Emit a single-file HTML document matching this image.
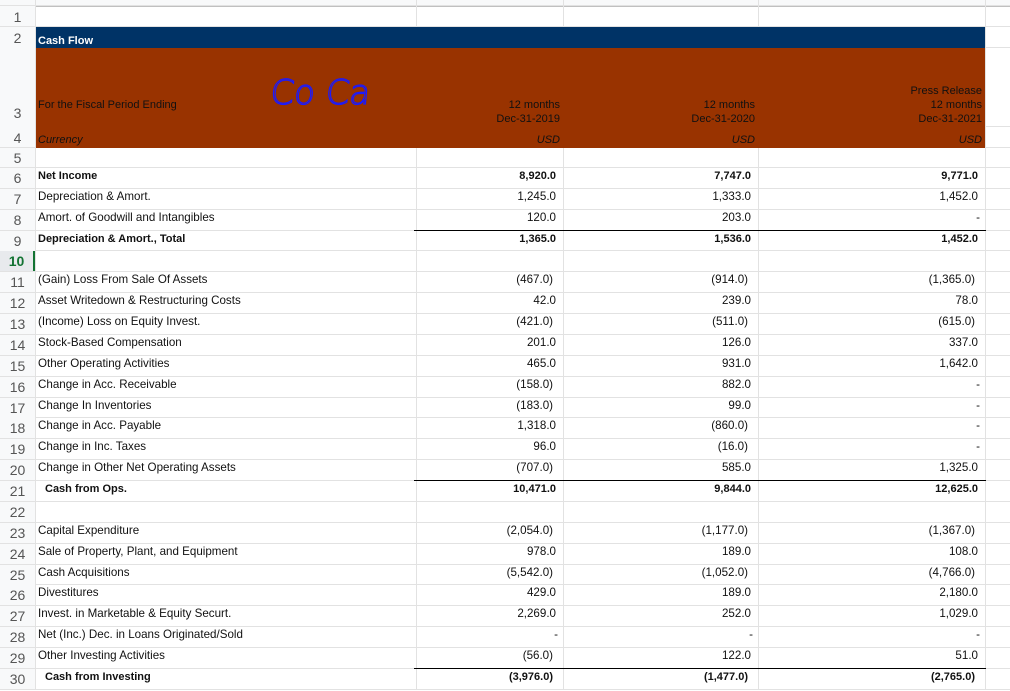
<!DOCTYPE html>
<html><head><meta charset="utf-8">
<style>
html,body{margin:0;padding:0;background:#fff;}
body{width:1010px;height:690px;overflow:hidden;position:relative;font-family:"Liberation Sans",Arial,sans-serif;}
.a{position:absolute;}
.hl{position:absolute;height:1px;background:#e2e2e2;}
.vl{position:absolute;width:1px;background:#e2e2e2;}
.rn{position:absolute;left:0;width:35px;text-align:center;font-size:14px;color:#555;background:#f8f9fa;}
.t{position:absolute;font-size:11.6px;line-height:14px;color:#111;white-space:nowrap;}
.num{text-align:right;}
.b{font-weight:bold;font-size:11px;}
</style></head><body>
<div class="a" style="left:0;top:0;width:1010px;height:6px;background:#f8f9fa;border-bottom:1px solid #c0c0c0;"></div>
<div class="a" style="left:0;top:6px;width:35px;height:684px;background:#f8f9fa;"></div>
<div id="grid"></div>
<div class="t b" style="left:38px;top:34px;color:#fff;">Cash Flow</div>
<div class="t" style="left:38px;top:98px;font-size:11px;">For the Fiscal Period Ending</div>
<div class="t" style="left:38px;top:133px;font-style:italic;font-size:11px;">Currency</div>
<svg class="a" style="left:270px;top:60px;" width="130" height="60"><text x="4" y="44" font-family="DejaVu Sans, sans-serif" font-size="34" font-weight="200" fill="none" stroke="#1a1aff" stroke-width="1.2" transform="skewX(-6)">Co Ca</text></svg>
<div id="cells"></div>
<script>
const labels=["Net Income","Depreciation & Amort.","Amort. of Goodwill and Intangibles","Depreciation & Amort., Total","","(Gain) Loss From Sale Of Assets","Asset Writedown & Restructuring Costs","(Income) Loss on Equity Invest.","Stock-Based Compensation","Other Operating Activities","Change in Acc. Receivable","Change In Inventories","Change in Acc. Payable","Change in Inc. Taxes","Change in Other Net Operating Assets","Cash from Ops.","","Capital Expenditure","Sale of Property, Plant, and Equipment","Cash Acquisitions","Divestitures","Invest. in Marketable & Equity Securt.","Net (Inc.) Dec. in Loans Originated/Sold","Other Investing Activities","Cash from Investing"];
const v2019=[8920,1245,120,1365,null,-467,42,-421,201,465,-158,-183,1318,96,-707,10471,null,-2054,978,-5542,429,2269,0,-56,-3976];
const v2020=[7747,1333,203,1536,null,-914,239,-511,126,931,882,99,-860,-16,585,9844,null,-1177,189,-1052,189,252,0,122,-1477];
const v2021=[9771,1452,0,1452,null,-1365,78,-615,337,1642,0,0,0,0,1325,12625,null,-1367,108,-4766,2180,1029,0,51,-2765];
const headers1=["12 months","12 months","Press Release"];
const headers2=["Dec-31-2019","Dec-31-2020","12 months"];
const headers3=["","","Dec-31-2021"];
const boldRows=[6,9,21,30], indentRows=[21,30], totalLineRows=[8,20,29];
const colR=[563,758,985], colL=[416,563,758];
const grid=document.getElementById('grid'), cells=document.getElementById('cells');
function rowTop(n){const h=[0,6,27,48,127,148];return h[n]!==undefined?h[n]:168+(n-6)*20.87;}
function fmt(v){if(v===0)return '-';const s=Math.abs(v).toLocaleString('en-US',{minimumFractionDigits:1,maximumFractionDigits:1});return v<0?'('+s+')':s;}
for(let n=1;n<=31;n++){const y=Math.round(rowTop(n));
 const d=document.createElement('div');d.className='hl';
 const inHeader=(n===3||n===4);
 d.style.left=(inHeader?985:0)+'px';d.style.width=(inHeader?25:1010)+'px';d.style.top=(y-1)+'px';
 
 
 grid.appendChild(d);}
[35,416,563,758,985].forEach(x=>{const d=document.createElement('div');d.className='vl';d.style.left=x+'px';d.style.top='0px';d.style.height='690px';
 
 
 grid.appendChild(d);});
const cover=document.createElement('div');cover.className='a';cover.style.cssText='left:36px;top:27px;width:949px;height:21px;background:#003366;';


grid.appendChild(cover);
const cover2=document.createElement('div');cover2.className='a';cover2.style.cssText='left:36px;top:48px;width:949px;height:100px;background:#993300;';


grid.appendChild(cover2);
for(let n=1;n<=30;n++){const top=rowTop(n),h=rowTop(n+1)-top;const d=document.createElement('div');d.className='rn';
 d.style.top=Math.round(top)+'px';d.style.height=Math.round(h-1)+'px';
 if(n===3){d.style.height='79px';d.innerHTML='<span style="position:absolute;left:0;width:35px;bottom:6px;line-height:16px">3</span>';}
 else {d.textContent=n;d.style.lineHeight=(h+1)+'px';}
 if(n===10){d.style.background='#e8eaed';d.style.fontWeight='bold';d.style.color='#137333';d.style.borderRight='2px solid #137333';d.style.width='33px';}
 
 
 grid.appendChild(d);}
for(let c=0;c<3;c++){
 const lines=[headers1[c],headers2[c],headers3[c]].filter(s=>s);
 const startY=lines.length===3?84:98;
 lines.forEach((s,i)=>{const d=document.createElement('div');d.className='t num';d.style.fontSize='11px';d.style.left=colL[c]+'px';d.style.width=(colR[c]-colL[c]-3)+'px';d.style.top=(startY+i*14)+'px';d.textContent=s;
  
  
  cells.appendChild(d);});
 const u=document.createElement('div');u.className='t num';u.style.fontSize='11px';u.style.left=colL[c]+'px';u.style.width=(colR[c]-colL[c]-3)+'px';u.style.top='133px';u.style.fontStyle='italic';u.textContent='USD';
 
 
 cells.appendChild(u);}
const series=[v2019,v2020,v2021];
labels.forEach((lab,i)=>{const n=6+i;const top=Math.round(rowTop(n))+1;
 const bold=boldRows.includes(n);
 if(lab){const d=document.createElement('div');d.className='t'+(bold?' b':'');d.style.left=(indentRows.includes(n)?45:38)+'px';d.style.top=top+'px';d.textContent=lab;
  
  
  cells.appendChild(d);}
 series.forEach((s,c)=>{const v=s[i];if(v===null)return;const d=document.createElement('div');d.className='t num'+(bold?' b':'');
  const pad=v===0?5:(v<0?10:7);
  d.style.left=colL[c]+'px';d.style.width=(colR[c]-colL[c]-pad)+'px';d.style.top=top+'px';d.textContent=fmt(v);
  
  
  cells.appendChild(d);});
 if(totalLineRows.includes(n)){const l=document.createElement('div');l.className='a';l.style.cssText='left:414px;width:572px;height:1px;background:#000;top:'+(Math.round(rowTop(n+1))-1)+'px';
  
  
  cells.appendChild(l);}
});
</script>
</body></html>
